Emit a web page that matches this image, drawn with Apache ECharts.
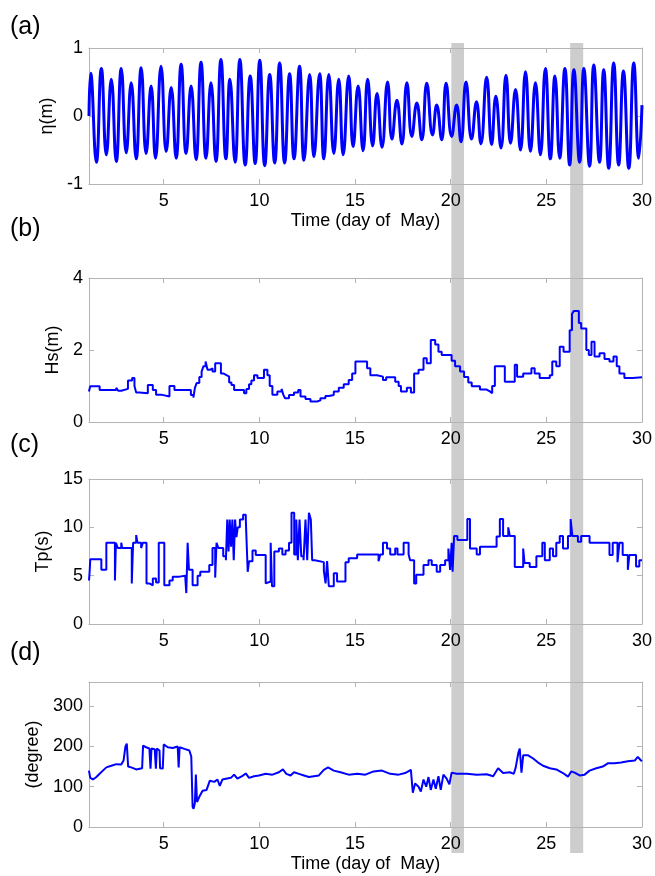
<!DOCTYPE html>
<html>
<head>
<meta charset="utf-8">
<script src="https://cdn.jsdelivr.net/npm/echarts@6/dist/echarts.min.js"></script>
<style>
html,body{margin:0;padding:0;background:#fff;}
#chart{width:655px;height:876px;}
</style>
</head>
<body>
<div id="chart"></div>
<script>
// ---------- data ----------
const xMin = 1.094, xMax = 30;
const xTicks = [5, 10, 15, 20, 25, 30];
const xName = 'Time (day of  May)';

// (a) water level: extrema
const etaT = [1.094, 1.18, 1.48, 1.74, 2.00, 2.26, 2.52, 2.78, 3.04, 3.30, 3.56, 3.82, 4.08, 4.34, 4.57, 4.86, 5.13, 5.39, 5.65, 5.91, 6.17, 6.43, 6.69, 6.95, 7.21, 7.47, 7.73, 7.99, 8.25, 8.46, 8.73, 8.98, 9.26, 9.52, 9.78, 10.02, 10.28, 10.54, 10.80, 11.06, 11.32, 11.58, 11.81, 12.10, 12.33, 12.63, 12.85, 13.15, 13.37, 13.63, 13.89, 14.15, 14.38, 14.67, 14.90, 15.16, 15.42, 15.66, 15.92, 16.15, 16.41, 16.70, 16.93, 17.19, 17.45, 17.71, 17.97, 18.23, 18.49, 18.75, 19.05, 19.27, 19.53, 19.76, 20.05, 20.31, 20.54, 20.80, 21.09, 21.35, 21.58, 21.88, 22.14, 22.36, 22.63, 22.89, 23.13, 23.39, 23.65, 23.91, 24.17, 24.43, 24.69, 24.95, 25.21, 25.45, 25.70, 25.97, 26.22, 26.44, 26.74, 26.96, 27.26, 27.48, 27.78, 28.00, 28.26, 28.52, 28.78, 29.03, 29.31, 29.57, 29.83, 30.0];
const etaV = [0, 0.63, -0.68, 0.70, -0.57, 0.54, -0.67, 0.70, -0.54, 0.49, -0.63, 0.71, -0.55, 0.44, -0.62, 0.73, -0.52, 0.42, -0.62, 0.76, -0.55, 0.44, -0.64, 0.79, -0.62, 0.49, -0.67, 0.83, -0.63, 0.54, -0.68, 0.83, -0.72, 0.59, -0.70, 0.82, -0.73, 0.61, -0.69, 0.78, -0.69, 0.62, -0.63, 0.73, -0.65, 0.61, -0.60, 0.62, -0.63, 0.61, -0.55, 0.54, -0.57, 0.59, -0.45, 0.44, -0.51, 0.54, -0.44, 0.33, -0.46, 0.50, -0.34, 0.23, -0.41, 0.49, -0.30, 0.19, -0.35, 0.48, -0.28, 0.16, -0.35, 0.48, -0.30, 0.16, -0.38, 0.50, -0.34, 0.21, -0.41, 0.57, -0.42, 0.29, -0.47, 0.60, -0.40, 0.39, -0.50, 0.65, -0.52, 0.49, -0.57, 0.70, -0.63, 0.59, -0.62, 0.70, -0.72, 0.68, -0.68, 0.70, -0.74, 0.75, -0.68, 0.68, -0.77, 0.78, -0.72, 0.66, -0.77, 0.78, -0.62, 0.16];

// (b) significant wave height (plateau starts)
const hsT = [1.09, 1.16, 1.65, 2.52, 2.62, 2.78, 3.13, 3.35, 3.47, 3.56, 3.73, 4.17, 4.43, 4.60, 4.86, 5.30, 5.56, 6.42, 6.55, 6.63, 6.72, 6.86, 6.98, 7.08, 7.19, 7.29, 7.41, 7.55, 7.69, 7.99, 8.11, 8.28, 8.42, 8.54, 8.68, 9.20, 9.32, 9.46, 9.58, 9.72, 9.90, 10.24, 10.42, 10.54, 10.68, 10.94, 11.16, 11.25, 11.34, 11.55, 11.81, 12.03, 12.15, 12.41, 12.67, 13.02, 13.19, 13.45, 13.63, 13.89, 14.15, 14.41, 14.67, 14.85, 15.02, 15.63, 15.80, 16.15, 16.46, 16.63, 17.10, 17.28, 17.40, 17.71, 17.92, 18.09, 18.32, 18.58, 18.75, 18.96, 19.19, 19.36, 19.53, 20.05, 20.23, 20.49, 20.70, 20.92, 21.10, 21.53, 21.88, 22.05, 22.17, 22.31, 22.83, 23.35, 23.47, 23.79, 24.22, 24.39, 24.65, 25.18, 25.31, 25.52, 25.70, 25.90, 26.22, 26.34, 26.43, 26.70, 26.82, 27.09, 27.22, 27.36, 27.52, 27.78, 28.04, 28.30, 28.51, 28.68, 28.82, 29.08, 29.52, 30.0];
const hsV = [0.85, 0.99, 0.89, 0.95, 0.87, 0.92, 1.15, 1.22, 1.00, 0.82, 0.80, 1.03, 0.89, 0.76, 0.71, 1.00, 0.89, 0.75, 0.68, 0.95, 1.08, 1.25, 1.40, 1.55, 1.68, 1.45, 1.49, 1.40, 1.63, 1.35, 1.30, 1.26, 1.10, 1.03, 0.89, 0.80, 0.92, 1.05, 1.15, 1.30, 1.22, 1.45, 1.30, 1.00, 0.76, 0.85, 0.92, 0.76, 0.66, 0.75, 0.82, 0.89, 0.71, 0.64, 0.57, 0.60, 0.66, 0.72, 0.75, 0.85, 0.95, 1.05, 1.17, 1.35, 1.68, 1.49, 1.30, 1.26, 1.17, 1.24, 1.12, 1.00, 0.85, 0.95, 0.82, 1.35, 1.45, 1.77, 1.63, 2.28, 2.15, 1.95, 1.86, 1.70, 1.55, 1.40, 1.25, 1.10, 0.99, 0.90, 0.85, 0.80, 1.00, 1.55, 1.12, 1.59, 1.26, 1.35, 1.49, 1.35, 1.22, 1.30, 1.68, 1.55, 2.09, 1.95, 2.55, 3.00, 3.08, 2.75, 2.60, 2.00, 1.86, 2.23, 1.82, 1.91, 1.75, 1.68, 1.82, 1.55, 1.35, 1.22, 1.24, 1.24];

// (c) peak period (plateau starts)
const tpT = [1.094, 1.13, 1.16, 1.74, 2.00, 2.45, 2.50, 2.60, 2.78, 2.83, 3.33, 3.40, 3.56, 3.63, 3.82, 3.91, 4.10, 4.25, 4.43, 4.60, 4.74, 5.03, 5.30, 5.47, 5.82, 6.13, 6.18, 6.25, 6.32, 6.51, 6.77, 6.91, 7.38, 7.55, 7.69, 7.76, 7.86, 8.11, 8.25, 8.32, 8.39, 8.45, 8.52, 8.59, 8.66, 8.73, 8.80, 8.87, 8.98, 9.15, 9.29, 9.39, 9.46, 9.64, 9.81, 10.33, 10.42, 10.59, 10.66, 10.78, 11.02, 11.20, 11.37, 11.55, 11.68, 11.82, 11.93, 12.01, 12.10, 12.19, 12.31, 12.41, 12.50, 12.59, 12.69, 12.76, 12.90, 13.37, 13.46, 13.54, 13.63, 13.89, 14.06, 14.50, 14.67, 15.11, 16.23, 16.32, 16.46, 16.67, 16.84, 17.10, 17.22, 17.54, 17.80, 17.88, 18.09, 18.20, 18.58, 18.84, 19.01, 19.27, 19.45, 19.71, 19.88, 19.97, 20.05, 20.10, 20.18, 20.35, 20.87, 21.01, 21.36, 21.53, 22.40, 22.57, 22.74, 23.01, 23.09, 23.35, 23.79, 23.86, 24.13, 24.48, 24.79, 24.92, 25.18, 25.35, 25.52, 25.70, 25.87, 26.13, 26.27, 26.36, 26.65, 26.82, 27.26, 28.30, 28.47, 28.72, 28.82, 28.99, 29.26, 29.34, 29.69, 29.86, 30.0];
const tpV = [4.5, 5.5, 6.7, 5.6, 8.4, 4.5, 8.4, 7.85, 8.4, 7.85, 4.2, 8.4, 9.2, 8.4, 7.85, 8.4, 4.2, 4.0, 4.7, 4.3, 8.4, 4.0, 4.5, 4.9, 5.0, 4.7, 3.2, 8.4, 5.6, 4.0, 5.0, 5.4, 6.1, 7.85, 4.8, 8.4, 7.85, 7.0, 6.6, 10.8, 7.5, 10.8, 8.0, 10.8, 6.6, 10.8, 9.0, 10.0, 10.8, 11.3, 10.8, 5.4, 6.5, 7.6, 7.15, 4.2, 4.4, 8.4, 3.9, 7.5, 7.8, 7.2, 7.6, 8.4, 11.5, 7.2, 10.8, 6.6, 10.8, 7.0, 6.6, 10.8, 6.6, 11.5, 10.8, 6.6, 6.4, 5.5, 4.2, 6.5, 3.9, 5.25, 4.4, 6.4, 6.8, 7.2, 6.5, 7.2, 8.4, 7.8, 7.2, 7.8, 7.2, 8.4, 7.2, 6.6, 4.2, 5.1, 6.1, 6.6, 6.1, 5.4, 6.1, 6.6, 7.8, 5.6, 8.4, 5.4, 9.1, 8.7, 10.85, 7.8, 7.2, 8.0, 9.05, 10.85, 9.1, 10.0, 9.1, 5.9, 7.8, 6.3, 5.9, 7.0, 8.4, 6.6, 7.8, 7.0, 8.4, 9.1, 7.8, 9.1, 10.85, 9.1, 8.5, 9.1, 8.4, 7.15, 8.4, 6.4, 8.4, 7.15, 5.6, 7.15, 5.95, 6.6, 6.6];

// (d) wave direction
const dirT = [1.09, 1.16, 1.30, 1.48, 1.65, 1.82, 2.00, 2.26, 2.52, 2.78, 2.90, 3.00, 3.07, 3.14, 3.30, 3.56, 3.87, 3.92, 4.08, 4.25, 4.31, 4.36, 4.53, 4.59, 4.64, 4.78, 4.81, 4.95, 5.00, 5.21, 5.47, 5.73, 5.78, 5.83, 6.08, 6.34, 6.44, 6.51, 6.56, 6.63, 6.68, 6.74, 6.86, 7.03, 7.24, 7.41, 7.64, 7.81, 7.93, 8.07, 8.25, 8.51, 8.68, 8.85, 9.12, 9.29, 9.46, 9.72, 9.98, 10.33, 10.68, 11.02, 11.23, 11.41, 11.63, 11.81, 12.07, 12.33, 12.59, 12.85, 13.11, 13.37, 13.59, 13.89, 14.24, 14.67, 15.11, 15.54, 15.97, 16.41, 16.84, 17.28, 17.62, 17.92, 18.02, 18.14, 18.32, 18.44, 18.58, 18.72, 18.84, 18.96, 19.10, 19.22, 19.36, 19.48, 19.62, 19.79, 19.93, 20.05, 20.31, 20.84, 21.36, 21.88, 22.22, 22.48, 22.74, 23.09, 23.30, 23.40, 23.54, 23.61, 23.70, 23.79, 24.05, 24.31, 24.57, 24.83, 25.18, 25.52, 25.87, 26.13, 26.30, 26.48, 26.74, 27.00, 27.26, 27.61, 27.95, 28.21, 28.56, 28.91, 29.26, 29.62, 29.78, 29.95, 30.0];
const dirV = [140, 122, 118, 124, 132, 140, 148, 152, 156, 155, 165, 200, 207, 150, 148, 143, 146, 202, 198, 195, 145, 195, 193, 145, 195, 190, 146, 145, 205, 198, 196, 200, 148, 198, 194, 190, 175, 50, 45, 60, 130, 62, 75, 90, 92, 115, 112, 118, 102, 118, 120, 122, 130, 120, 127, 133, 122, 126, 128, 132, 130, 136, 143, 132, 128, 136, 132, 128, 124, 126, 128, 142, 148, 140, 136, 130, 132, 130, 138, 140, 132, 130, 134, 142, 85, 108, 100, 88, 118, 100, 124, 92, 118, 95, 126, 92, 130, 120, 106, 135, 132, 132, 130, 131, 126, 146, 134, 136, 132, 148, 185, 195, 135, 178, 178, 170, 160, 152, 146, 143, 134, 125, 138, 135, 128, 130, 140, 146, 150, 158, 158, 160, 163, 165, 174, 165, 163];

// shaded periods
const bandStart = [20.0, 26.2];
const bandEnd = [20.66, 26.88];

// y ranges / ticks
const etaRange = [-1, 1], etaTicks = [-1, 0, 1];
const hsRange = [0, 4], hsTicks = [0, 2, 4];
const tpRange = [0, 15], tpTicks = [0, 5, 10, 15];
const dirRange = [0, 360], dirTicks = [0, 100, 200, 300];

const panelNames = ['(a)', '(b)', '(c)', '(d)'];
const yNames = ['\u03b7(m)', 'Hs(m)', 'Tp(s)', '(degree)'];

// ---------- layout / style ----------
const FONT = '"Liberation Sans", Arial, Helvetica, sans-serif';
const FRAME = '#b4b4b4';
const BLUE = '#0000ff';
const L = 89, W = 554;
const grids = [
  { left: L, top: 48, width: W, height: 136 },
  { left: L, top: 278, width: W, height: 144 },
  { left: L, top: 479, width: W, height: 145 },
  { left: L, top: 682, width: W, height: 145 },
  { left: L, top: 43, width: W, height: 810 }
];
const yRanges = [etaRange, hsRange, tpRange, dirRange];
const yTickSets = [etaTicks, hsTicks, tpTicks, dirTicks];
const yNameGaps = [27, 23, 36, 46];
const letterY = [30, 232, 448, 656];

const xAxes = [], yAxes = [];
for (let i = 0; i < 4; i++) {
  const withName = (i === 0 || i === 3);
  xAxes.push({
    type: 'value', gridIndex: i, min: xMin, max: xMax, position: 'bottom',
    axisLine: { show: true, onZero: false, lineStyle: { color: FRAME, width: 1 } },
    axisTick: { show: true, inside: true, length: 5, customValues: xTicks, lineStyle: { color: FRAME } },
    axisLabel: { customValues: xTicks, color: '#000', fontSize: 18, fontFamily: FONT, margin: 8 },
    splitLine: { show: false },
    name: withName ? xName : '', nameLocation: 'middle', nameGap: 28,
    nameTextStyle: { color: '#000', fontSize: 18, fontFamily: FONT }
  });
  xAxes.push({
    type: 'value', gridIndex: i, min: xMin, max: xMax, position: 'top',
    axisLine: { show: true, onZero: false, lineStyle: { color: FRAME, width: 1 } },
    axisTick: { show: true, inside: true, length: 5, customValues: xTicks, lineStyle: { color: FRAME } },
    axisLabel: { show: false }, splitLine: { show: false }
  });
  yAxes.push({
    type: 'value', gridIndex: i, min: yRanges[i][0], max: yRanges[i][1], position: 'left',
    axisLine: { show: true, onZero: false, lineStyle: { color: FRAME, width: 1 } },
    axisTick: { show: true, inside: true, length: 5, customValues: yTickSets[i], lineStyle: { color: FRAME } },
    axisLabel: { customValues: yTickSets[i], color: '#000', fontSize: 18, fontFamily: FONT, margin: 6 },
    splitLine: { show: false },
    name: yNames[i], nameLocation: 'middle', nameGap: yNameGaps[i],
    nameTextStyle: { color: '#000', fontSize: 18, fontFamily: FONT }
  });
  yAxes.push({
    type: 'value', gridIndex: i, min: yRanges[i][0], max: yRanges[i][1], position: 'right',
    axisLine: { show: true, onZero: false, lineStyle: { color: FRAME, width: 1 } },
    axisTick: { show: true, inside: true, length: 5, customValues: yTickSets[i], lineStyle: { color: FRAME } },
    axisLabel: { show: false }, splitLine: { show: false }
  });
}
// band overlay axes (hidden)
xAxes.push({ type: 'value', gridIndex: 4, min: xMin, max: xMax, show: false });
yAxes.push({ type: 'value', gridIndex: 4, min: 0, max: 1, show: false });

const pairs = (t, v) => t.map((x, i) => [x, v[i]]);

const series = [
  {
    type: 'custom', xAxisIndex: 8, yAxisIndex: 8, z: -1, silent: true,
    data: bandStart.map((s, i) => [s, bandEnd[i]]),
    renderItem: function (params, api) {
      const p0 = api.coord([api.value(0), 1]);
      const p1 = api.coord([api.value(1), 0]);
      return {
        type: 'rect',
        shape: { x: p0[0], y: p0[1], width: p1[0] - p0[0], height: p1[1] - p0[1] },
        style: { fill: '#cdcdcd' }
      };
    }
  },
  {
    type: 'line', xAxisIndex: 0, yAxisIndex: 0, data: pairs(etaT, etaV),
    smooth: 0.5, showSymbol: false, lineStyle: { color: BLUE, width: 3 }, z: 3
  },
  {
    type: 'line', xAxisIndex: 2, yAxisIndex: 2, data: pairs(hsT, hsV),
    step: 'end', showSymbol: false, lineStyle: { color: BLUE, width: 2 }, z: 3
  },
  {
    type: 'line', xAxisIndex: 4, yAxisIndex: 4, data: pairs(tpT, tpV),
    step: 'end', showSymbol: false, lineStyle: { color: BLUE, width: 2 }, z: 3
  },
  {
    type: 'line', xAxisIndex: 6, yAxisIndex: 6, data: pairs(dirT, dirV),
    showSymbol: false, lineStyle: { color: BLUE, width: 2 }, z: 3
  }
];

const graphic = panelNames.map((t, i) => ({
  type: 'text', left: 10, top: letterY[i] - 15,
  style: { text: t, fontSize: 25, fontFamily: FONT, fill: '#000' }
}));

const chart = echarts.init(document.getElementById('chart'), null, { renderer: 'canvas' });
chart.setOption({
  backgroundColor: '#fff',
  animation: false,
  grid: grids,
  xAxis: xAxes,
  yAxis: yAxes,
  series: series,
  graphic: graphic
});
</script>
</body>
</html>
